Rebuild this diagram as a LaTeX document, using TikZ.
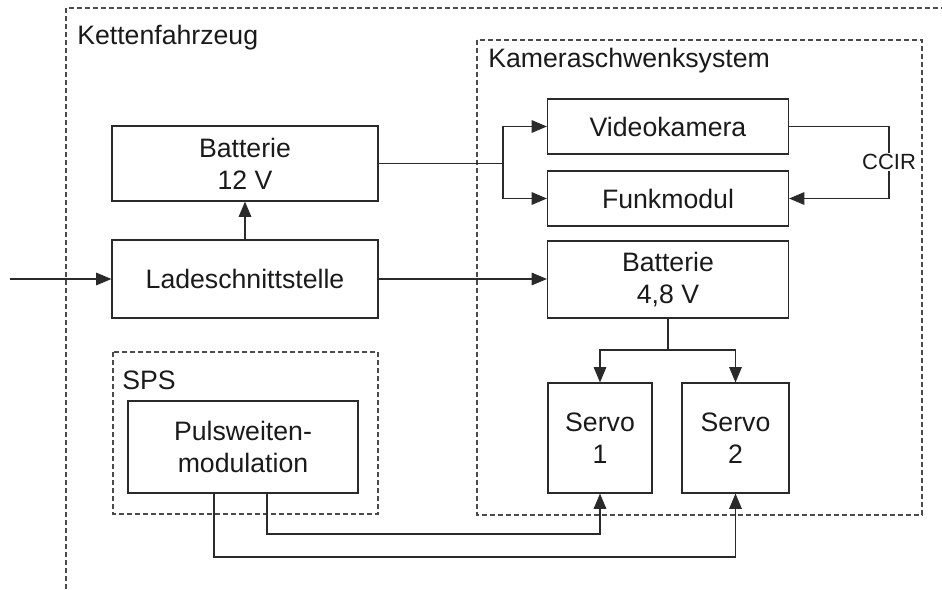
\documentclass[tikz,border=0pt]{standalone}
\usepackage{fontspec}
\setmainfont{Liberation Sans}
\usetikzlibrary{arrows.meta}
\definecolor{linec}{HTML}{2a2a2a}
\definecolor{dashc}{HTML}{4a4a4a}
\definecolor{textc}{HTML}{1a1a1a}
\begin{document}
\begin{tikzpicture}[x=0.75pt,y=-0.75pt,
  every node/.style={text=textc},
  blk/.style={draw=linec,line width=0.9pt,align=center,inner sep=0pt,
    font=\fontsize{20}{24}\selectfont},
  grp/.style={draw=dashc,line width=0.8pt,dash pattern=on 3.6pt off 2.4pt},
  lbl/.style={anchor=base west,inner sep=0pt,font=\fontsize{20}{24}\selectfont},
  conn/.style={draw=linec,line width=0.8pt},
  arr/.style={conn,-{Triangle[length=11.5pt,width=9.5pt]}}]
\useasboundingbox (0,0) rectangle (942,589);
% group frames
\draw[grp] (66,589) -- (66,8) -- (942,8);
\draw[grp] (477,40) rectangle (922,515);
\draw[grp] (113,352) rectangle (378,514);
\node[lbl] (lket) at (77,44) {Kettenfahrzeug};
\node[lbl] (lkam) at (488,67) {Kameraschwenksystem};
\node[lbl] (lsps) at (122,389) {SPS};
% blocks
\node[blk,minimum width=266*0.75pt,minimum height=75*0.75pt] (bat12) at (245,163.5) {Batterie\\12 V};
\node[blk,minimum width=266*0.75pt,minimum height=78*0.75pt] (lade) at (245,279) {Ladeschnittstelle};
\node[blk,minimum width=241*0.75pt,minimum height=55*0.75pt] (video) at (668,126.5) {Videokamera};
\node[blk,minimum width=241*0.75pt,minimum height=55*0.75pt] (funk) at (668,198.5) {Funkmodul};
\node[blk,minimum width=241*0.75pt,minimum height=77*0.75pt] (bat48) at (668,279.5) {Batterie\\4,8 V};
\node[blk,minimum width=104*0.75pt,minimum height=110*0.75pt] (servo1) at (600,438) {Servo\\1};
\node[blk,minimum width=107*0.75pt,minimum height=110*0.75pt] (servo2) at (735.5,438) {Servo\\2};
\node[blk,minimum width=230*0.75pt,minimum height=92*0.75pt] (pwm) at (243,447) {Pulsweiten-\\modulation};
\node[inner sep=1pt,font=\fontsize{16.5}{19}\selectfont] (ccir) at (889,162) {CCIR};
% coordinates
\coordinate (in) at (10,279);
\coordinate (br) at (503,163.5);
\coordinate (sb) at (668,350);
\coordinate (p1) at (267,493);
\coordinate (p2) at (214,493);
% connectors
\draw[arr] (in) -- (lade.west);
\draw[arr] (lade.north) -- (bat12.south);
\draw[arr] (lade.east) -- (lade.east -| bat48.west);
\draw[conn] (bat12.east |- br) -- (br);
\draw[arr] (br) |- (video.west);
\draw[arr] (br) |- (funk.west);
\draw[conn] (video.east) -| (ccir.north);
\draw[arr] (ccir.south) |- (funk.east);
\draw[conn] (bat48.south) -- (sb);
\draw[arr] (sb) -| (servo1.north);
\draw[arr] (sb) -| (servo2.north);
\draw[arr] (p1) -- (267,534) -| (servo1.south);
\draw[arr] (p2) -- (214,557) -| (servo2.south);
\end{tikzpicture}
\end{document}
